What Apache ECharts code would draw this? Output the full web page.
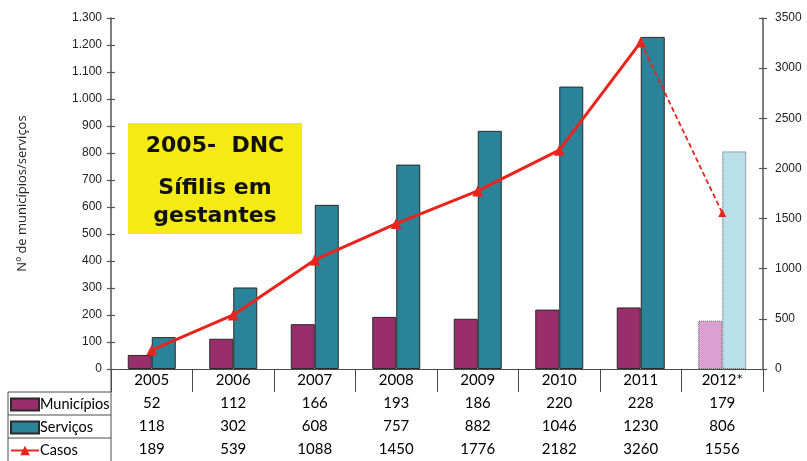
<!DOCTYPE html>
<html>
<head>
<meta charset="utf-8">
<script src="https://cdn.jsdelivr.net/npm/echarts@6/dist/echarts.min.js"></script>
<style>
  html, body { margin: 0; padding: 0; background: #fff; }
  #chart { width: 807px; height: 461px; }
</style>
</head>
<body>
<div id="chart"></div>
<script>
// Data
const years = ['2005', '2006', '2007', '2008', '2009', '2010', '2011', '2012*'];
const municipios = [52, 112, 166, 193, 186, 220, 228, 179];
const servicos = [118, 302, 608, 757, 882, 1046, 1230, 806];
const casos = [189, 539, 1088, 1450, 1776, 2182, 3260, 1556];
const leftTicks = { min: 0, max: 1300, step: 100 };
const rightTicks = { min: 0, max: 3500, step: 500 };

// Layout
const G = { left: 111, right: 44, top: 18, bottom: 92 };
const ROW = 23;
const BORDER = '#4a4a4a';
const TABLE_FONT = 'Lato, "Open Sans", sans-serif';
const AXIS_FONT = '"Liberation Sans", Arial, sans-serif';

const C_MUN = '#982f6c', C_MUN_LIGHT = '#dca0d2';
const C_SER = '#2b8399', C_SER_LIGHT = '#b9dfea';
const C_CAS = '#e8241d';

const lastIdx = years.length - 1;

const munData = municipios.map((v, i) => i === lastIdx
  ? { value: v, itemStyle: { color: C_MUN_LIGHT, borderType: 'dotted', borderColor: '#555' } }
  : v);
const serData = servicos.map((v, i) => i === lastIdx
  ? { value: v, itemStyle: { color: C_SER_LIGHT, borderType: 'dotted', borderColor: '#555' } }
  : v);
// solid part of the line runs through 2011, the projected 2012 value is dashed
const casosSolid = casos.map((v, i) => i === lastIdx ? null : v);
const casosDashed = casos.map((v, i) => i < lastIdx - 1 ? null
  : (i === lastIdx ? { value: v, symbol: 'triangle' } : { value: v, symbol: 'none' }));

const fmtThousands = v => String(v).replace(/\B(?=(\d{3})+(?!\d))/g, '.');

// table row axis: one category axis per row, ticks drawn as the cell walls
function tableAxis(data, offset) {
  return {
    type: 'category', data: data, position: 'bottom', offset: offset, gridIndex: 0,
    axisLine: { show: true, lineStyle: { color: BORDER, width: 1 } },
    axisTick: { show: true, length: ROW, lineStyle: { color: BORDER, width: 1 } },
    axisLabel: { show: true, margin: 4, color: '#000', fontFamily: TABLE_FONT, fontSize: 15, interval: 0 },
    splitLine: { show: false }
  };
}

const xAxes = [
  tableAxis(years, 0),
  tableAxis(municipios.map(String), ROW),
  tableAxis(servicos.map(String), ROW * 2),
  tableAxis(casos.map(String), ROW * 3)
];

function valueAxis(pos, rng, opts) {
  return Object.assign({
    type: 'value', position: pos, min: rng.min, max: rng.max, interval: rng.step,
    splitLine: { show: false },
    axisLine: { show: true, lineStyle: { color: '#555', width: 1.5 } },
    axisTick: { show: true, length: 4, lineStyle: { color: '#555', width: 1.2 } },
    axisLabel: { color: '#222', fontFamily: AXIS_FONT, fontSize: 12, margin: 8 }
  }, opts || {});
}

const yAxes = [
  valueAxis('left', leftTicks, {
    axisLabel: { color: '#222', fontFamily: AXIS_FONT, fontSize: 12, margin: 9, formatter: fmtThousands },
    name: 'Nº de municípios/serviços', nameLocation: 'middle', nameGap: 82, nameRotate: 90,
    nameTextStyle: { color: '#222', fontFamily: '"Open Sans", sans-serif', fontSize: 13 }
  }),
  valueAxis('right', rightTicks, {
    axisLabel: { color: '#222', fontFamily: AXIS_FONT, fontSize: 12, margin: 12, formatter: v => String(v) }
  }),
  // inner halves of the crossing tick marks
  valueAxis('left', leftTicks, { axisLine: { show: false }, axisLabel: { show: false },
    axisTick: { show: true, inside: true, length: 4, lineStyle: { color: '#555', width: 1.2 } } }),
  valueAxis('right', rightTicks, { axisLine: { show: false }, axisLabel: { show: false },
    axisTick: { show: true, inside: true, length: 4, lineStyle: { color: '#555', width: 1.2 } } })
];

function rowLegend(name, top, icon, w, h) {
  return {
    data: [name], left: 10, top: top, orient: 'vertical', icon: icon,
    itemWidth: w, itemHeight: h, itemGap: 0, padding: 0,
    textStyle: { color: '#000', fontFamily: TABLE_FONT, fontSize: 14.5, padding: [0, 0, 0, -4] },
    selectedMode: false
  };
}

const bottomY = 461 - G.bottom;
const chart = echarts.init(document.getElementById('chart'), null, { renderer: 'canvas' });

chart.setOption({
  animation: false,
  backgroundColor: '#fff',
  grid: { left: G.left, right: G.right, top: G.top, bottom: G.bottom, containLabel: false },
  xAxis: xAxes,
  yAxis: yAxes,
  legend: [
    rowLegend('Municípios', bottomY + ROW + 5, 'rect', 28, 12),
    rowLegend('Serviços', bottomY + ROW * 2 + 5, 'rect', 28, 12),
    rowLegend('Casos', bottomY + ROW * 3 + 5, null, 28, 12)
  ],
  series: [
    {
      name: 'Municípios', type: 'bar', xAxisIndex: 0, yAxisIndex: 0, data: munData,
      barWidth: 24, barGap: '0%',
      itemStyle: { color: C_MUN, borderColor: '#2a2a2a', borderWidth: 1 }
    },
    {
      name: 'Serviços', type: 'bar', xAxisIndex: 0, yAxisIndex: 0, data: serData,
      barWidth: 24, barGap: '0%',
      itemStyle: { color: C_SER, borderColor: '#2a2a2a', borderWidth: 1 }
    },
    {
      name: 'Casos', type: 'line', xAxisIndex: 0, yAxisIndex: 1, data: casosSolid,
      symbol: 'triangle', symbolSize: 11, connectNulls: false, z: 5,
      lineStyle: { color: C_CAS, width: 3 },
      itemStyle: { color: C_CAS, borderWidth: 0 }
    },
    {
      name: 'Casos 2012', type: 'line', xAxisIndex: 0, yAxisIndex: 1, data: casosDashed,
      symbolSize: 8, z: 5,
      lineStyle: { color: C_CAS, width: 1.8, type: [5, 3] },
      itemStyle: { color: C_CAS, borderWidth: 0 }
    }
  ],
  graphic: [
    // left column of the data table
    { type: 'line', shape: { x1: 8, y1: bottomY + ROW, x2: G.left, y2: bottomY + ROW }, style: { stroke: BORDER, lineWidth: 1 } },
    { type: 'line', shape: { x1: 8, y1: bottomY + ROW * 2, x2: G.left, y2: bottomY + ROW * 2 }, style: { stroke: BORDER, lineWidth: 1 } },
    { type: 'line', shape: { x1: 8, y1: bottomY + ROW * 3, x2: G.left, y2: bottomY + ROW * 3 }, style: { stroke: BORDER, lineWidth: 1 } },
    { type: 'line', shape: { x1: 8, y1: bottomY + ROW, x2: 8, y2: 461 }, style: { stroke: BORDER, lineWidth: 1 } },
    { type: 'line', shape: { x1: G.left, y1: bottomY, x2: G.left, y2: 461 }, style: { stroke: BORDER, lineWidth: 1 } },
    // annotation box
    {
      type: 'group', left: 128, top: 123, z: 10,
      children: [
        { type: 'rect', shape: { x: 0, y: 0, width: 174, height: 111 }, style: { fill: '#f4ea14' } },
        { type: 'text', style: { x: 87, y: 23, text: '2005-  DNC', align: 'center', verticalAlign: 'middle',
            font: 'bold 22px "DejaVu Sans", sans-serif', fill: '#111' } },
        { type: 'text', style: { x: 87, y: 65, text: 'Sífilis em', align: 'center', verticalAlign: 'middle',
            font: 'bold 22px "DejaVu Sans", sans-serif', fill: '#111' } },
        { type: 'text', style: { x: 87, y: 93, text: 'gestantes', align: 'center', verticalAlign: 'middle',
            font: 'bold 22px "DejaVu Sans", sans-serif', fill: '#111' } }
      ]
    }
  ]
});
</script>
</body>
</html>
